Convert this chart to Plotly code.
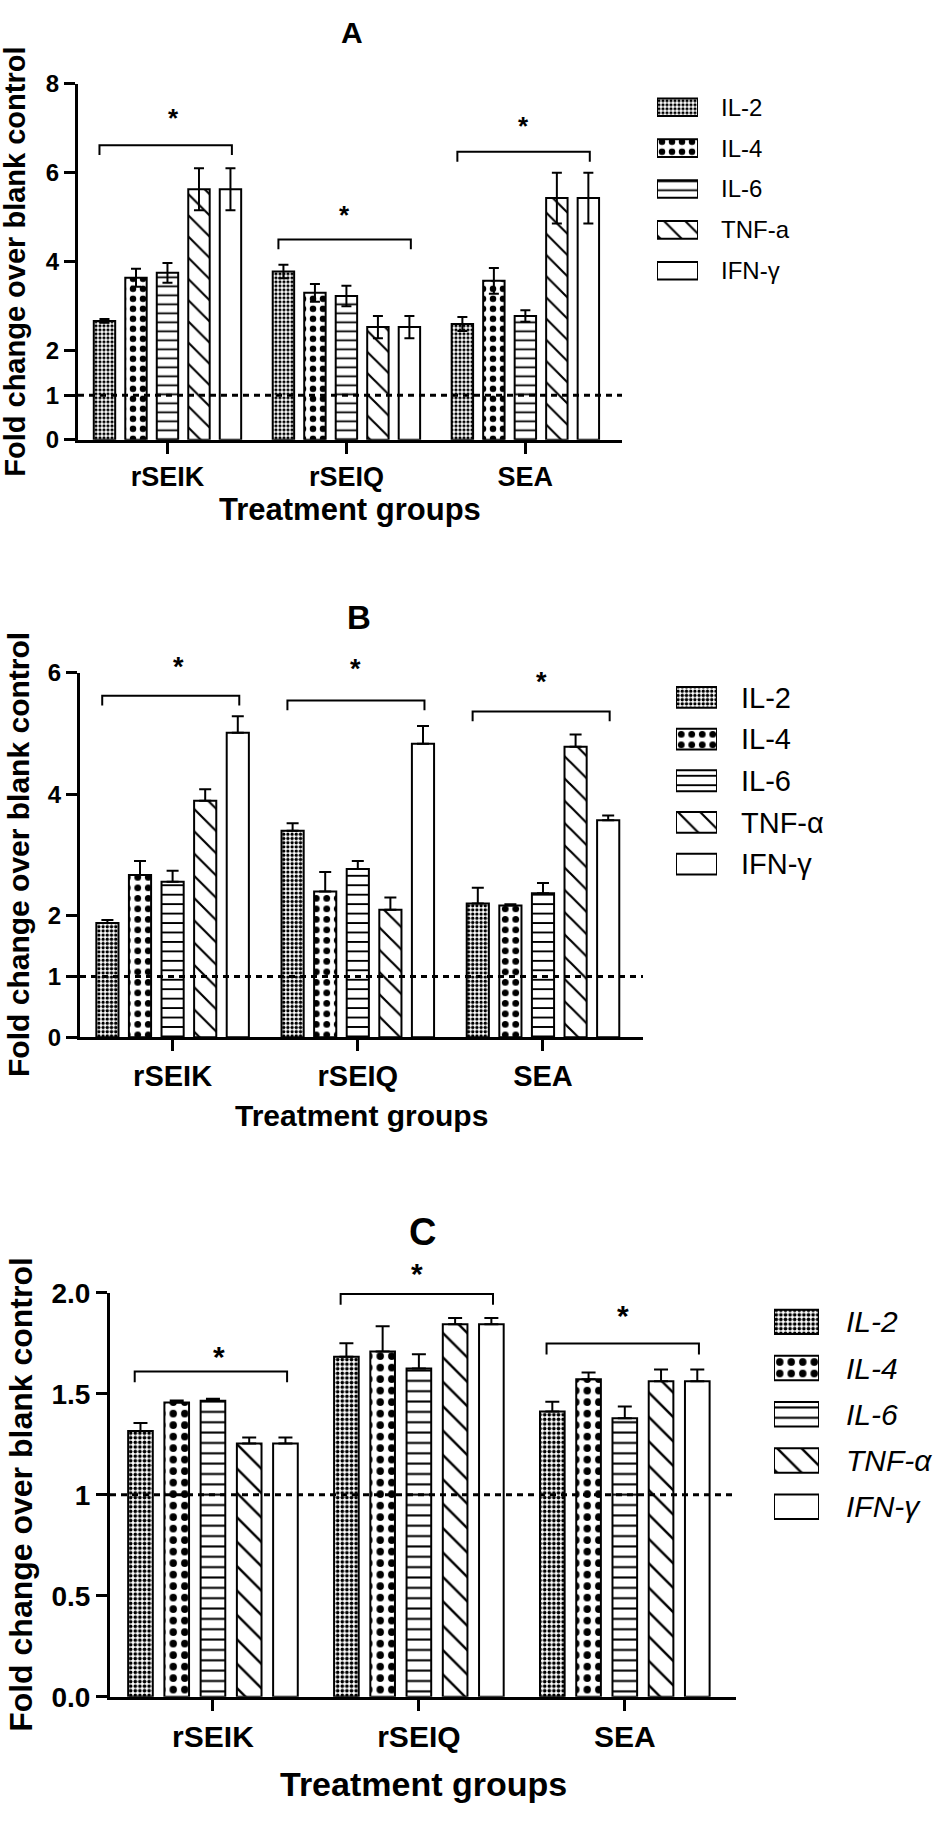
import plotly.graph_objects as go

W, H = 937, 1821
FONT = "Liberation Sans, Arial, sans-serif"

groups = ["rSEIK", "rSEIQ", "SEA"]
labels_a = ["IL-2", "IL-4", "IL-6", "TNF-a", "IFN-γ"]
labels_bc = ["IL-2", "IL-4", "IL-6", "TNF-α", "IFN-γ"]

# rows: IL-2, IL-4, IL-6, TNF, IFN ; columns: rSEIK, rSEIQ, SEA
a_mean = [[2.67, 3.78, 2.60], [3.64, 3.30, 3.57], [3.75, 3.23, 2.78],
          [5.63, 2.53, 5.43], [5.63, 2.53, 5.43]]
a_err = [[0.04, 0.15, 0.16], [0.20, 0.20, 0.29], [0.22, 0.23, 0.13],
         [0.47, 0.25, 0.57], [0.47, 0.25, 0.57]]
b_mean = [[1.88, 3.40, 2.20], [2.67, 2.40, 2.17], [2.56, 2.77, 2.37],
          [3.89, 2.10, 4.78], [5.01, 4.83, 3.57]]
b_err = [[0.05, 0.12, 0.26], [0.23, 0.32, 0.02], [0.18, 0.13, 0.17],
         [0.19, 0.20, 0.20], [0.27, 0.29, 0.08]]
c_mean = [[1.316, 1.684, 1.413], [1.457, 1.710, 1.572], [1.466, 1.626, 1.379],
          [1.254, 1.845, 1.563], [1.254, 1.845, 1.563]]
c_err = [[0.040, 0.067, 0.048], [0.010, 0.125, 0.034], [0.010, 0.070, 0.058],
         [0.030, 0.030, 0.058], [0.030, 0.030, 0.058]]

# significance brackets (height of bracket, height of star)
a_bracket = [6.62, 4.50, 6.47]
a_star = [7.37, 5.19, 7.17]
b_bracket = [5.62, 5.54, 5.36]
b_star = [6.19, 6.16, 5.95]
c_bracket = [1.611, 1.995, 1.749]
c_star = [1.717, 2.128, 1.920]

a_ticks = [0, 1, 2, 4, 6, 8]
b_ticks = [0, 1, 2, 4, 6]
c_ticks = [0, 0.5, 1, 1.5, 2.0]
c_ticktext = ["0.0", "0.5", "1", "1.5", "2.0"]

SHAPES = [".", ".", "-", "\\", ""]
SIZES = [4, 10, 9, 15, 10]
SOLID = [0.5, 0.33, 0.2, 0.14, 0.1]


def px(x):
    return x / W


def py(y):
    return 1 - y / H


panels = [
    dict(name="A", mean=a_mean, err=a_err, both=True, bracket=a_bracket, star=a_star,
         labels=labels_a, dom_x=(78, 622), dom_y=(432, 70), yrange=8, ticks=a_ticks,
         ticktext=[str(t) for t in a_ticks], leg_x=(657, 698), leg_y=(73, 281),
         leg_w=0.43, leg_font=dict(size=24), leg_off=22, tick_font=24, xtick_font=27,
         title_xy=(352, 18), title_size=30, ylab_x=15, xlab_y=503, lab_size=29,
         xlab_size=31, drop=0.22, star_size=26, cap=5, scale=1.0),
    dict(name="B", mean=b_mean, err=b_err, both=False, bracket=b_bracket, star=b_star,
         labels=labels_bc, dom_x=(80, 643), dom_y=(1040, 669), yrange=6, ticks=b_ticks,
         ticktext=[str(t) for t in b_ticks], leg_x=(676, 717), leg_y=(673, 885),
         leg_w=0.5, leg_font=dict(size=29), leg_off=23, tick_font=24, xtick_font=29,
         title_xy=(359, 613), title_size=33, ylab_x=19, xlab_y=1120, lab_size=30,
         xlab_size=30, drop=0.16, star_size=27, cap=6, scale=1.05),
    dict(name="C", mean=c_mean, err=c_err, both=False, bracket=c_bracket, star=c_star,
         labels=labels_bc, dom_x=(110, 736), dom_y=(1711, 1300), yrange=2.0, ticks=c_ticks,
         ticktext=c_ticktext, leg_x=(774, 819), leg_y=(1306, 1541), leg_w=0.53,
         leg_font=dict(size=30, style="italic"), leg_off=26, tick_font=28, xtick_font=30,
         title_xy=(422, 1238), title_size=38, ylab_x=21, xlab_y=1800, lab_size=32,
         xlab_size=34, drop=0.054, star_size=30, cap=7, scale=1.15),
]

fig = go.Figure()
shapes = []
annotations = []
layout_axes = {}


def axis_id(k):
    return "" if k == 1 else str(k)


for p_idx, p in enumerate(panels):
    n = p_idx + 1
    xa, ya = "x" + axis_id(n), "y" + axis_id(n)
    lx, ly = f"x{n + 3}", f"y{n + 3}"
    s = p["scale"]
    x_lo, x_hi = -0.5, 2.54
    (dx0, dx1), (dy0, dy1) = p["dom_x"], p["dom_y"]

    for i, label in enumerate(p["labels"]):
        err = p["err"][i]
        fig.add_trace(go.Bar(
            x=groups, y=p["mean"][i], name=label, xaxis=xa, yaxis=ya, showlegend=False,
            marker=dict(color="white", line=dict(color="black", width=2),
                        pattern=dict(shape=SHAPES[i], size=SIZES[i] * s, solidity=SOLID[i],
                                     fgcolor="black", bgcolor="white", fillmode="replace")),
            error_y=dict(type="data", array=err,
                         arrayminus=err if p["both"] else [0] * len(err),
                         symmetric=False, color="black", thickness=2, width=p["cap"]),
        ))

    # legend swatches drawn as horizontal bars on their own small axes
    fig.add_trace(go.Bar(
        y=p["labels"], x=[1] * len(p["labels"]), orientation="h", width=p["leg_w"],
        xaxis=lx, yaxis=ly, showlegend=False, hoverinfo="skip",
        marker=dict(color="white", line=dict(color="black", width=2),
                    pattern=dict(shape=SHAPES, size=[v * s for v in SIZES], solidity=SOLID,
                                 fgcolor="black", bgcolor="white", fillmode="replace")),
    ))

    layout_axes["xaxis" + axis_id(n)] = dict(
        domain=[px(dx0), px(dx1)], anchor=ya, range=[x_lo, x_hi],
        showline=True, linewidth=3, linecolor="black", ticks="outside", ticklen=11,
        tickwidth=3, tickcolor="black", showgrid=False, zeroline=False,
        tickfont=dict(family=FONT, size=p["xtick_font"], color="black", weight="bold"),
    )
    layout_axes["yaxis" + axis_id(n)] = dict(
        domain=[py(dy0), py(dy1)], anchor=xa, range=[0, p["yrange"]],
        tickmode="array", tickvals=p["ticks"], ticktext=p["ticktext"],
        showline=True, linewidth=3, linecolor="black", ticks="outside", ticklen=11,
        tickwidth=3, tickcolor="black", showgrid=False, zeroline=False,
        tickfont=dict(family=FONT, size=p["tick_font"], color="black", weight="bold"),
    )
    layout_axes[f"xaxis{n + 3}"] = dict(
        domain=[px(p["leg_x"][0]), px(p["leg_x"][1])], anchor=ly, range=[0, 1],
        visible=False, fixedrange=True,
    )
    layout_axes[f"yaxis{n + 3}"] = dict(
        domain=[py(p["leg_y"][1]), py(p["leg_y"][0])], anchor=lx, type="category",
        autorange="reversed", side="right", showline=False, ticks="", showgrid=False,
        ticklabelstandoff=p["leg_off"],
        tickfont=dict(family=FONT, color="black", **p["leg_font"]),
    )

    # baseline at fold change = 1
    shapes.append(dict(type="line", xref=f"{xa} domain", yref=ya, x0=0, x1=1, y0=1, y1=1,
                       line=dict(color="black", width=3, dash="6px,5px"), layer="above"))

    # significance brackets; stars may sit above the axis top, so place them in paper units
    for g, (yb, ys) in enumerate(zip(p["bracket"], p["star"])):
        x0, x1 = g - 0.38, g + 0.36
        shapes.append(dict(type="path", xref=xa, yref=ya, layer="above",
                           path=f"M {x0},{yb - p['drop']} L {x0},{yb} L {x1},{yb} L {x1},{yb - p['drop']}",
                           line=dict(color="black", width=2)))
        fx = ((x0 + x1) / 2 - x_lo) / (x_hi - x_lo)
        fy = ys / p["yrange"]
        annotations.append(dict(x=px(dx0 + fx * (dx1 - dx0)), y=py(dy0 + fy * (dy1 - dy0)),
                                xref="paper", yref="paper", text="*",
                                showarrow=False, yanchor="middle", yshift=-0.22 * p["star_size"],
                                font=dict(family=FONT, size=p["star_size"], color="black",
                                          weight="bold")))

    # panel letter and axis titles
    tx, ty = p["title_xy"]
    annotations.append(dict(x=px(tx), y=py(ty), xref="paper", yref="paper", text=p["name"],
                            showarrow=False, xanchor="center", yanchor="middle",
                            font=dict(family=FONT, size=p["title_size"], color="black",
                                      weight="bold")))
    annotations.append(dict(x=px(p["ylab_x"]), y=py((dy0 + dy1) / 2), xref="paper",
                            yref="paper", text="Fold change over blank control",
                            textangle=-90, showarrow=False, xanchor="center", yanchor="middle",
                            font=dict(family=FONT, size=p["lab_size"], color="black",
                                      weight="bold")))
    annotations.append(dict(x=px((dx0 + dx1) / 2), y=py(p["xlab_y"]), xref="paper",
                            yref="paper", text="Treatment groups", showarrow=False,
                            xanchor="center", yanchor="middle",
                            font=dict(family=FONT, size=p["xlab_size"], color="black",
                                      weight="bold")))

fig.update_layout(
    width=W, height=H, margin=dict(l=0, r=0, t=0, b=0),
    paper_bgcolor="white", plot_bgcolor="white",
    barmode="group", bargap=0.12, bargroupgap=0.32, showlegend=False, hovermode=False,
    font=dict(family=FONT, color="black"),
    shapes=shapes, annotations=annotations,
    **layout_axes,
)

# the page body has a default 8px margin; drop it so the figure fills the window exactly
fig.write_html("out.html", config={"displayModeBar": False, "staticPlot": True},
               post_script="document.body.style.margin = '0';")
